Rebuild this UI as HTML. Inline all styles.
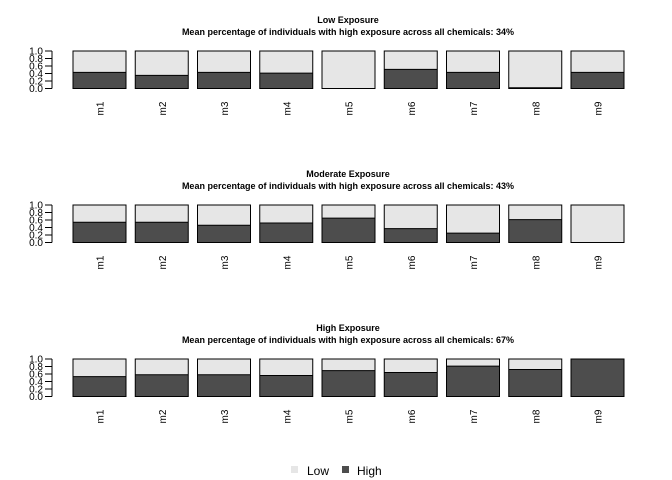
<!DOCTYPE html>
<html><head><meta charset="utf-8"><style>
body{margin:0;background:#fff;}
svg{display:block;font-family:"Liberation Sans",Arial,sans-serif;}
</style></head><body>
<svg id="c" width="672" height="480"></svg>
<script>
const categories=["m1","m2","m3","m4","m5","m6","m7","m8","m9"];
const panelTitles=["Low Exposure","Moderate Exposure","High Exposure"];
const panelMeans=["34%","43%","67%"];
const lowHigh=[0.43,0.35,0.43,0.41,0.0,0.51,0.43,0.02,0.43];
const modHigh=[0.54,0.54,0.46,0.52,0.65,0.37,0.25,0.61,0.0];
const highHigh=[0.53,0.58,0.58,0.56,0.69,0.64,0.81,0.72,1.0];
const yTicks=[0,0.2,0.4,0.6,0.8,1.0];
const series=[lowHigh,modHigh,highHigh];
const NS="http://www.w3.org/2000/svg";
const svg=document.getElementById('c');
function mk(t,a,p){const e=document.createElementNS(NS,t);for(const k in a)e.setAttribute(k,a[k]);(p||svg).appendChild(e);return e;}
const tops=[51,205,359],H=37.5;
const xPos=i=>73+i*62.25, bw=53;
series.forEach((vals,p)=>{
  const g=mk('g',{});
  
  
  const y0=tops[p]+H, yS=v=>y0-v*H;
  const t=mk('text',{x:348,y:tops[p]-28,'text-anchor':'middle','font-size':9,'font-weight':'bold'},g);
  t.textContent=panelTitles[p];
  
  
  const s=mk('text',{x:348,y:tops[p]-16,'text-anchor':'middle','font-size':9,'font-weight':'bold'},g);
  s.textContent="Mean percentage of individuals with high exposure across all chemicals: "+panelMeans[p];
  
  
  mk('line',{x1:52,x2:52,y1:yS(0),y2:yS(1),stroke:'#000'},g);
  yTicks.forEach(v=>{
    mk('line',{x1:45,x2:52,y1:yS(v),y2:yS(v),stroke:'#000'},g);
    const l=mk('text',{x:43,y:yS(v)+3.5,'text-anchor':'end','font-size':10},g);
    l.textContent=v.toFixed(1);
    
    
  });
  vals.forEach((v,i)=>{
    const x=xPos(i);
    const lo=mk('rect',{x:x,y:yS(1),width:bw,height:yS(v)-yS(1),fill:'#e6e6e6'},g);
    
    
    const hi=mk('rect',{x:x,y:yS(v),width:bw,height:y0-yS(v),fill:'#4d4d4d'},g);
    
    
    mk('line',{x1:x,x2:x+bw,y1:yS(v),y2:yS(v),stroke:'#000'},g);
    mk('rect',{x:x,y:yS(1),width:bw,height:H,fill:'none',stroke:'#000'},g);
    const cx=x+bw/2;
    const xl=mk('text',{x:cx+4,y:y0+20,'text-anchor':'middle','font-size':10,transform:`rotate(-90 ${cx+4} ${y0+20})`},g);
    xl.textContent=categories[i];
    
    
  });
});
const lg=mk('g',{});


mk('rect',{x:291,y:466,width:7,height:7,fill:'#e6e6e6'},lg);
const t1=mk('text',{x:307,y:475,'font-size':12},lg);t1.textContent='Low';


mk('rect',{x:342,y:466,width:7,height:7,fill:'#4d4d4d'},lg);
const t2=mk('text',{x:357,y:475,'font-size':12},lg);t2.textContent='High';


</script>
</body></html>
